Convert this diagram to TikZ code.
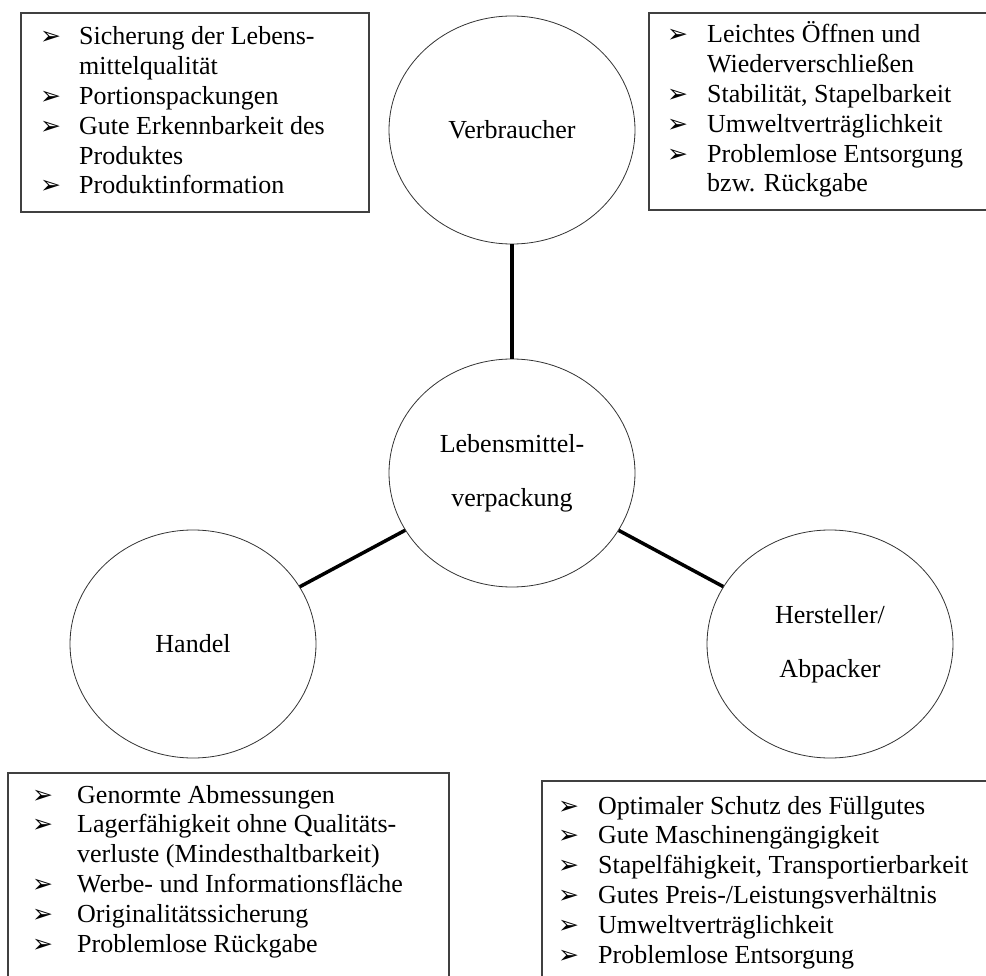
\documentclass[tikz,border=0pt]{standalone}
\usepackage{fontspec}
\setmainfont{Liberation Serif}
\newfontfamily\dingfont{DejaVu Sans}
\usetikzlibrary{shapes.geometric}
\newcommand{\pfeil}{{\dingfont\fontsize{25}{25}\selectfont ➢}}

\begin{document}
\begin{tikzpicture}[x=1pt,y=-1pt,
        kreis/.style={draw=black!80, line width=0.8pt, ellipse, minimum width=246pt, minimum height=228pt,
                      inner sep=0pt, align=center, font=\fontsize{26}{54}\selectfont},
        kasten/.style={draw=black!75, line width=1.2pt},
        liste/.style={anchor=base west, inner sep=0pt, font=\fontsize{26}{29.8}\selectfont},
        verbindung/.style={line width=3.5pt}]
                        \useasboundingbox (0,0) rectangle (986,976);
                        \clip (0,0) rectangle (986,976);
                        \node[kreis] (V) at (512,130) {Verbraucher};
                        \node[kreis] (L) at (512,473) {Lebensmittel-\\verpackung};
                        \node[kreis] (Ha) at (193,644) {Handel};
                        \node[kreis] (He) at (830,644) {Hersteller/\\Abpacker};
                        \draw[verbindung] (V) -- (L);
                        \draw[verbindung] (Ha) -- (L);
                        \draw[verbindung] (L) -- (He);
                        \draw[kasten] (21,13) rectangle (369,212);
                        \node[liste] (V1) at (40,45) {\begin{tabular}[t]{@{}p{39pt}@{}l@{}}
                            \pfeil & Sicherung der Lebens-\\
                                   & mittelqualität\\
                            \pfeil & Portionspackungen\\
                            \pfeil & Gute Erkennbarkeit des\\
                                   & Produktes\\
                            \pfeil & Produktinformation
                        \end{tabular}};
                        \draw[kasten] (649,13) rectangle (995,210);
                        \node[liste] (V2) at (667,43) {\begin{tabular}[t]{@{}p{40pt}@{}l@{}}
                            \pfeil & Leichtes Öffnen und\\
                                   & Wiederverschließen\\
                            \pfeil & Stabilität, Stapelbarkeit\\
                            \pfeil & Umweltverträglichkeit\\
                            \pfeil & Problemlose Entsorgung\\
                                   & bzw. Rückgabe
                        \end{tabular}};
                        \draw[kasten] (8,773) rectangle (449,995);
                        \node[liste] (Ha1) at (32,803) {\begin{tabular}[t]{@{}p{45pt}@{}l@{}}
                            \pfeil & Genormte Abmessungen\\
                            \pfeil & Lagerfähigkeit ohne Qualitäts-\\
                                   & verluste (Mindesthaltbarkeit)\\
                            \pfeil & Werbe- und Informationsfläche\\
                            \pfeil & Originalitätssicherung\\
                            \pfeil & Problemlose Rückgabe
                        \end{tabular}};
                        \draw[kasten] (542,781) rectangle (995,995);
                        \node[liste] (He1) at (558,814) {\begin{tabular}[t]{@{}p{40pt}@{}l@{}}
                            \pfeil & Optimaler Schutz des Füllgutes\\
                            \pfeil & Gute Maschinengängigkeit\\
                            \pfeil & Stapelfähigkeit, Transportierbarkeit\\
                            \pfeil & Gutes Preis-/Leistungsverhältnis\\
                            \pfeil & Umweltverträglichkeit\\
                            \pfeil & Problemlose Entsorgung
                        \end{tabular}};
                    \end{tikzpicture}
\end{document}
